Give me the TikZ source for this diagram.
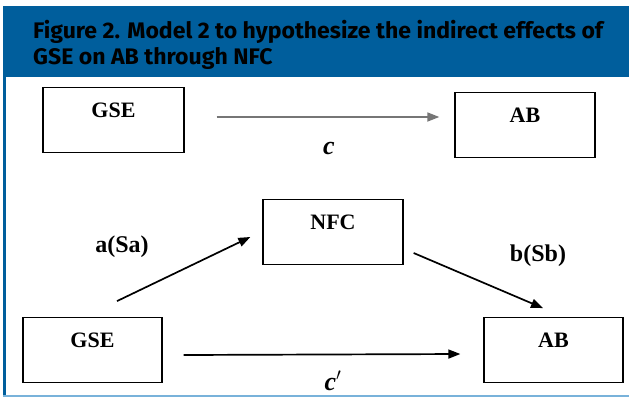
\documentclass[tikz,border=0pt]{standalone}
\usepackage{fontspec}
\usepackage{graphicx}
\setmainfont{Liberation Serif}
\newfontfamily\hdrfont{Fira Sans}
\usetikzlibrary{arrows.meta,calc}
\definecolor{hdrblue}{RGB}{0,94,156}
\definecolor{rulelight}{RGB}{120,178,218}
\definecolor{arrgray}{RGB}{118,118,118}
\newsavebox\hdrbox
\newsavebox\hdrboxb
\begin{document}
\sbox\hdrbox{\hdrfont\bfseries\fontsize{22.5}{22.5}\selectfont Figure 2. Model 2 to hypothesize the indirect effects of}%
\sbox\hdrboxb{\hdrfont\bfseries\fontsize{22.5}{22.5}\selectfont GSE on AB through NFC}%
\pgfmathsetmacro\hx{570pt/\wd\hdrbox}%
\begin{tikzpicture}[x=1pt,y=-1pt,
  varbox/.style={draw=black,line width=1.3pt,minimum width=140pt,inner xsep=0pt,inner ysep=0pt,
    text height=30pt,text depth=34.5pt,font=\fontsize{22}{22}\selectfont\bfseries},
  conn/.style={line width=1.7pt,-{Triangle[length=12pt,width=9pt]}},
  lbl/.style={font=\fontsize{24}{24}\selectfont\bfseries,inner sep=0pt},
  hdr/.style={text=white,inner sep=0pt,anchor=base west}]
\useasboundingbox (0,0) rectangle (629,397);
\fill[white] (0,0) rectangle (629,397);
% header band
\fill[hdrblue] (3,6) rectangle (629,77);
\node[hdr] (title1) at (33,38) {\scalebox{\hx}[1]{\usebox\hdrbox}};
\node[hdr] (title2) at (33,64) {\scalebox{\hx}[1]{\usebox\hdrboxb}};
% frame lines
\draw[hdrblue,line width=2.5pt] (4.5,77) -- (4.5,397);
% boxes
\node[varbox,minimum width=141pt] (gse1) at (113.5,120) {GSE};
\node[varbox] (ab1) at (525,125) {AB};
\node[varbox] (nfc) at (333,232) {NFC};
\node[varbox,minimum width=139pt] (gse2) at (92.5,350) {GSE};
\node[varbox,minimum width=139pt] (ab2) at (553.5,350) {AB};
% connector end points
\coordinate (cs) at ($(gse1.east)+(32,-3)$);
\coordinate (ce) at ($(ab1.west)+(-15,-8)$);
\coordinate (as) at ($(gse2.north)+(24.5,-16)$);
\coordinate (ae) at ($(nfc.west)+(-12,5)$);
\coordinate (bs) at ($(nfc.east)+(10,21)$);
\coordinate (be) at ($(ab2.north)+(-10.5,-9)$);
\coordinate (ds) at ($(gse2.east)+(21,5)$);
\coordinate (de) at ($(ab2.west)+(-23,4)$);
% connectors
\draw[conn,arrgray] (cs) -- (ce);
\draw[conn] (as) -- (ae);
\draw[conn] (bs) -- (be);
\draw[conn] (ds) -- (de);
% labels
\node[lbl,font=\fontsize{26}{26}\selectfont\bfseries\itshape] (lc) at (329,148) {c};
\node[lbl] (la) at (122,247) {a(Sa)};
\node[lbl] (lb) at (538,256) {b(Sb)};
\node[lbl,font=\fontsize{26}{26}\selectfont\bfseries\itshape,anchor=base] (ld) at (333,390) {c$'$};
% bottom rule
\draw[rulelight,line width=1.5pt] (3,396) -- (629,396);
\end{tikzpicture}
\end{document}
